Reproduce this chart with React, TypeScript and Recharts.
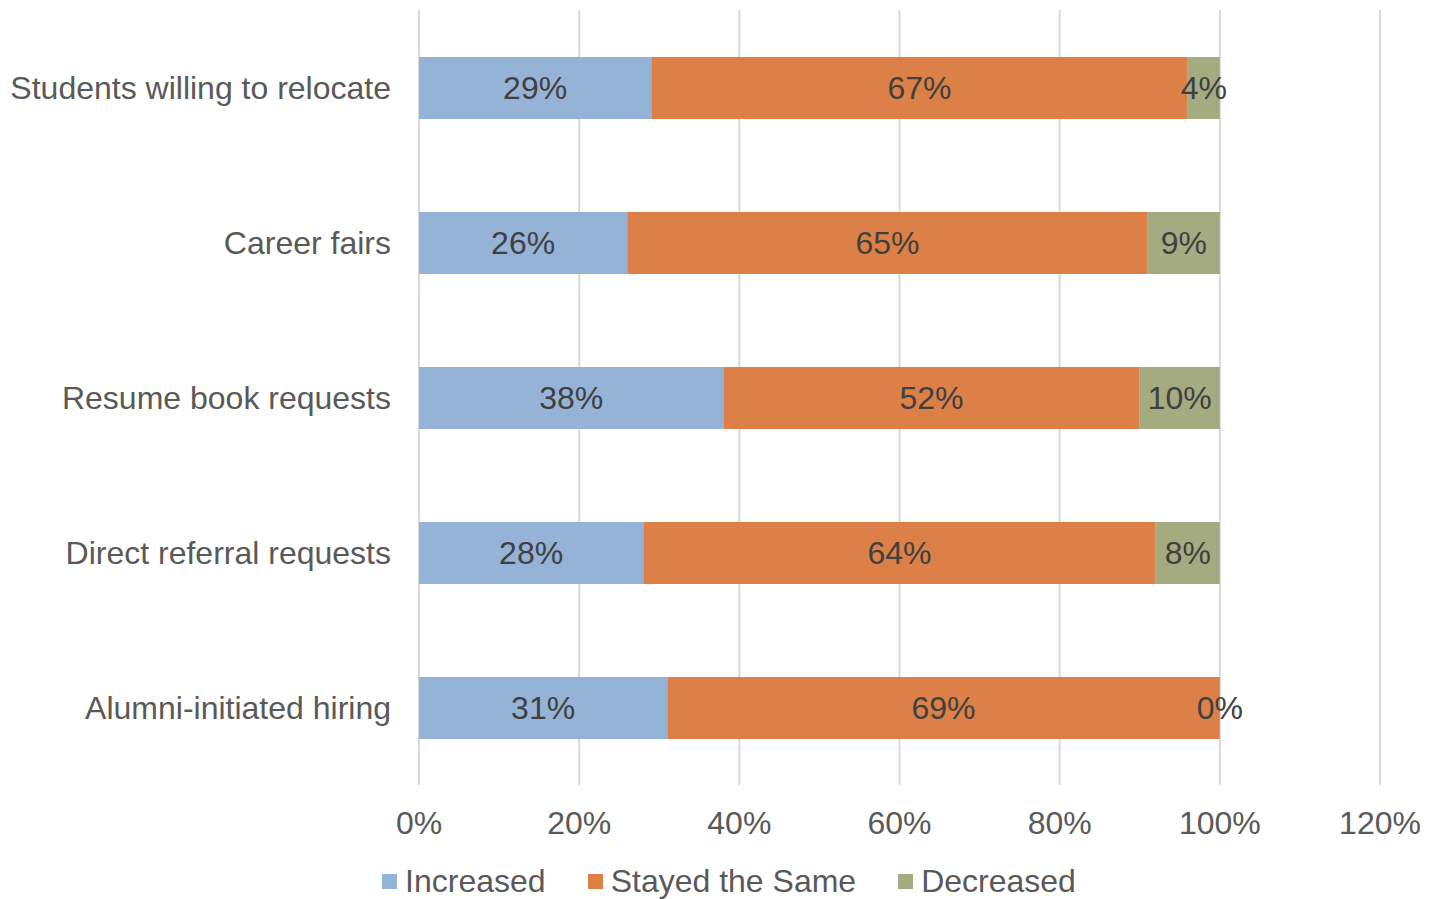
import React from 'react';
import { BarChart, Bar, XAxis, YAxis, CartesianGrid, LabelList, Legend } from 'recharts';

const categories = [
  'Students willing to relocate',
  'Career fairs',
  'Resume book requests',
  'Direct referral requests',
  'Alumni-initiated hiring',
];
const increased = [0.29, 0.26, 0.38, 0.28, 0.31];
const stayedSame = [0.67, 0.65, 0.52, 0.64, 0.69];
const decreased = [0.04, 0.09, 0.1, 0.08, 0.0];
const xTicks = [0, 0.2, 0.4, 0.6, 0.8, 1.0, 1.2];

const seriesInfo = [
  { key: 'increased', name: 'Increased', color: '#95B3D7' },
  { key: 'stayed', name: 'Stayed the Same', color: '#DD8047' },
  { key: 'decreased', name: 'Decreased', color: '#A5AB81' },
];

const data = categories.map((c, i) => ({
  category: c,
  increased: increased[i],
  stayed: stayedSame[i],
  decreased: decreased[i],
}));

const pct = (v: number) => `${Math.round(v * 100)}%`;
const FONT = '"Liberation Sans", Arial, sans-serif';
const FS = 32;

const LegendContent = () => (
  <div style={{ display: 'flex', justifyContent: 'center', alignItems: 'center', fontFamily: FONT, fontSize: FS, color: '#595959', paddingTop: 18, paddingLeft: 78, lineHeight: '36px' }}>
    {seriesInfo.map((s, i) => (
      <div key={s.key} style={{ display: 'flex', alignItems: 'center', marginLeft: i === 0 ? 0 : 42 }}>
        <div style={{ width: 15, height: 15, background: s.color, marginRight: 8 }} />
        <span>{s.name}</span>
      </div>
    ))}
  </div>
);

const CenterLabel = (props: any) => {
  const { x, y, width, height, value } = props;
  if (x == null || y == null) return null;
  const w = Number(width || 0);
  return (
    <text
      x={Number(x) + (w < 1 ? 0 : w / 2)}
      y={Number(y) + Number(height || 0) / 2}
      textAnchor="middle"
      dominantBaseline="central"
      fill="#404040"
      fontSize={FS}
      fontFamily={FONT}
    >
      {pct(Number(value))}
    </text>
  );
};

export default function App() {
  return (
    <div style={{ position: 'absolute', left: 0, top: 0, width: 1436, height: 899, background: '#fff' }}>
      <BarChart
        width={1436}
        height={899}
        data={data}
        layout="vertical"
        margin={{ top: 10, right: 56, bottom: 0, left: 0 }}
        barSize={62}
      >
        <CartesianGrid horizontal={false} vertical={true} stroke="#D9D9D9" strokeWidth={2} />
        <XAxis
          type="number"
          domain={[0, 1.2]}
          ticks={xTicks}
          tickFormatter={pct}
          axisLine={false}
          tickLine={false}
          tick={{ fill: '#595959', fontSize: FS, fontFamily: FONT }}
          tickMargin={20}
          height={60}
          interval={0}
        />
        <YAxis
          type="category"
          dataKey="category"
          width={419}
          axisLine={false}
          tickLine={false}
          tick={{ fill: '#595959', fontSize: FS, fontFamily: FONT }}
          tickMargin={22}
          interval={0}
        />
        <Legend verticalAlign="bottom" height={54} content={<LegendContent />} wrapperStyle={{ bottom: 0 }} />
        {seriesInfo.map((s) => (
          <Bar
            key={s.key}
            dataKey={s.key}
            name={s.name}
            stackId="a"
            fill={s.color}
            isAnimationActive={false}
            minPointSize={s.key === 'decreased' ? 0.01 : 0}
          >
            <LabelList dataKey={s.key} content={<CenterLabel />} />
          </Bar>
        ))}
      </BarChart>
    </div>
  );
}
